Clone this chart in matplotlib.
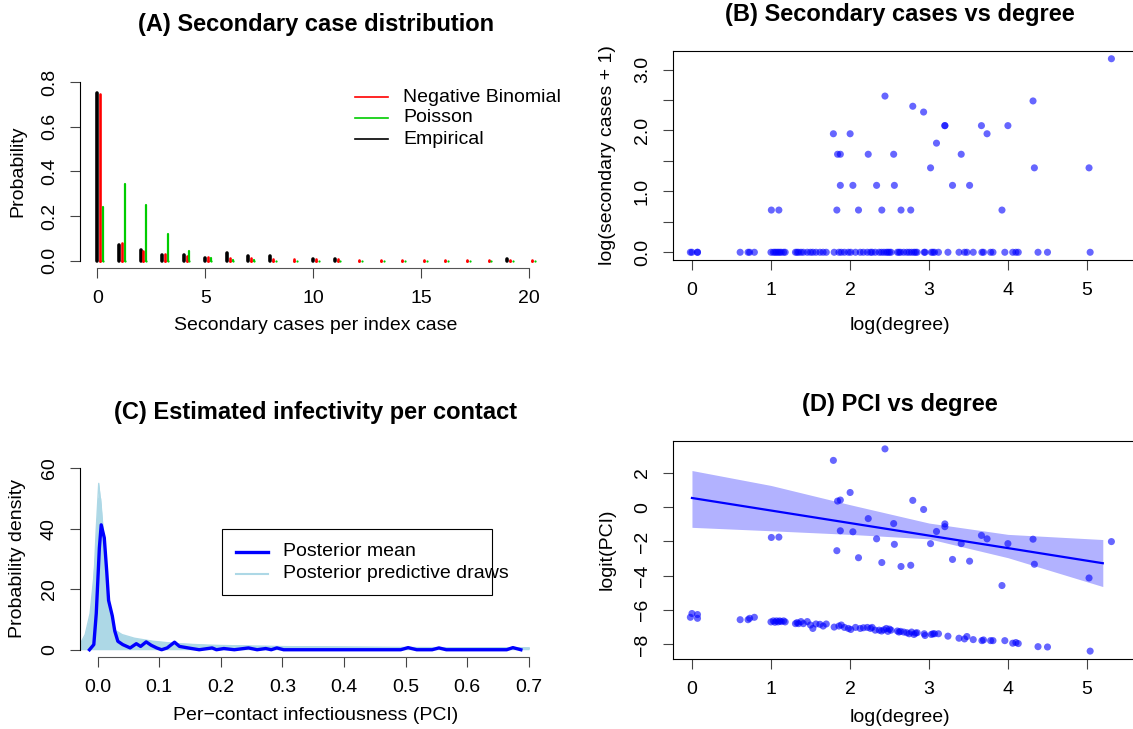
import numpy as np
import matplotlib
matplotlib.use('Agg')
import matplotlib.pyplot as plt
from matplotlib.lines import Line2D
from matplotlib.patches import Rectangle

plt.rcParams['font.family'] = ['Liberation Sans', 'DejaVu Sans']
plt.rcParams['font.size'] = 14

# ---- (A) secondary case distribution ----
k_all = np.arange(21)
emp_k = [0, 1, 2, 3, 4, 5, 6, 7, 8, 10, 11, 19]
emp_p = [0.752, 0.070, 0.048, 0.027, 0.027, 0.013, 0.033, 0.020, 0.020, 0.010, 0.010, 0.010]
nb_p = [0.749, 0.081, 0.043, 0.030, 0.023, 0.018, 0.015, 0.012, 0.010, 0.008, 0.008,
        0.007, 0.006, 0.006, 0.005, 0.005, 0.005, 0.004, 0.004, 0.004, 0.004]
pois_p = [0.240, 0.345, 0.250, 0.122, 0.046, 0.015, 0.006, 0.002, 0.001, 0, 0,
          0, 0, 0, 0, 0, 0, 0, 0, 0, 0]

# ---- (B)/(D) per index case: log(degree), secondary cases, logit(PCI) ----
deg_pos = [1.005, 1.10, 1.79, 1.834, 1.843, 1.878, 1.878, 2.002, 2.037, 2.108, 2.231, 2.337,
           2.403, 2.443, 2.553, 2.562, 2.646, 2.769, 2.795, 2.932, 3.02, 3.095, 3.201, 3.201,
           3.298, 3.408, 3.514, 3.664, 3.735, 3.924, 3.999, 4.317, 4.334, 5.026, 5.309]
sec_pos = [1, 1, 6, 1, 4, 4, 2, 6, 2, 1, 4, 2, 1, 12, 4, 2, 1, 1, 10, 9, 3, 5, 7, 7,
           2, 4, 2, 7, 6, 1, 7, 11, 3, 3, 23]
pci_pos = [-1.77, -1.75, 2.72, -2.54, 0.35, 0.41, -1.38, 0.85, -1.44, -2.95, -0.67, -1.85,
           -3.23, 3.39, -0.96, -2.17, -3.46, -3.39, 0.39, -0.14, -2.13, -1.42, -0.98, -1.14,
           -3.05, -2.13, -3.15, -1.65, -1.85, -4.57, -2.13, -1.87, -3.33, -4.13, -2.01]

deg_zero = [-0.02, 0.00, 0.07, 0.07, 0.61, 0.71, 0.73, 0.79, 1.00, 1.03, 1.05, 1.07, 1.09,
            1.11, 1.13, 1.16, 1.18, 1.31, 1.33, 1.35, 1.38, 1.41, 1.46, 1.50, 1.53, 1.57,
            1.62, 1.66, 1.70, 1.80, 1.86, 1.89, 1.93, 1.98, 2.01, 2.07, 2.13, 2.17, 2.22,
            2.26, 2.28, 2.32, 2.37, 2.40, 2.43, 2.46, 2.48, 2.50, 2.52, 2.60, 2.62, 2.64,
            2.68, 2.72, 2.75, 2.78, 2.81, 2.83, 2.85, 2.94, 2.95, 3.03, 3.05, 3.07, 3.12,
            3.24, 3.38, 3.45, 3.48, 3.56, 3.67, 3.69, 3.78, 3.81, 3.96, 4.06, 4.10, 4.13,
            4.38, 4.50, 5.04]
pci_zero = [-6.42, -6.20, -6.26, -6.48, -6.56, -6.56, -6.48, -6.42, -6.69, -6.63, -6.71, -6.63,
            -6.69, -6.63, -6.67, -6.63, -6.69, -6.79, -6.73, -6.79, -6.67, -6.79, -6.67, -6.87,
            -7.07, -6.81, -6.83, -6.93, -6.81, -6.99, -6.93, -6.87, -7.01, -7.07, -7.13, -7.01,
            -7.07, -7.03, -7.01, -7.07, -7.01, -7.17, -7.17, -7.22, -7.15, -7.07, -7.24, -7.11,
            -7.17, -7.22, -7.28, -7.24, -7.28, -7.32, -7.38, -7.28, -7.42, -7.34, -7.32, -7.38,
            -7.48, -7.42, -7.38, -7.38, -7.38, -7.52, -7.64, -7.68, -7.54, -7.72, -7.78, -7.74,
            -7.78, -7.78, -7.78, -7.93, -7.89, -7.95, -8.13, -8.15, -8.39]

# regression fit in (D)
fit_x = [0, 1, 2, 3, 4, 5.2]
fit_mid = [0.53, -0.20, -0.93, -1.66, -2.39, -3.27]
fit_hi = [2.13, 1.26, 0.14, -0.93, -1.59, -1.89]
fit_lo = [-1.18, -1.38, -1.59, -1.85, -2.95, -4.63]

# ---- (C) PCI density ----
mean_x = [-0.013, -0.006, -0.002, 0.003, 0.006, 0.011, 0.015, 0.018, 0.024, 0.028, 0.033,
          0.041, 0.053, 0.063, 0.070, 0.079, 0.087, 0.096, 0.104, 0.113, 0.125, 0.133, 0.147,
          0.165, 0.186, 0.193, 0.205, 0.222, 0.245, 0.259, 0.273, 0.282, 0.291, 0.302, 0.492,
          0.504, 0.518, 0.543, 0.554, 0.566, 0.664, 0.674, 0.687]
mean_y = [0, 1.7, 12, 33.6, 41.3, 37, 25.8, 16.3, 11.2, 6.2, 2.8,
          1.7, 0.6, 2.0, 1.1, 2.6, 1.5, 0.6, 0, 0.6, 2.5, 1.1, 0.6,
          0, 0.6, 0, 0.4, 0, 0.6, 0, 0.4, 0, 0.6, 0, 0,
          0.7, 0, 0, 0.6, 0, 0, 0.7, 0]

draw_x = [-0.028, -0.02, -0.012, -0.006, -0.002, 0.002, 0.005, 0.009, 0.014, 0.02, 0.028,
          0.04, 0.06, 0.09, 0.13, 0.18, 0.25, 0.35, 0.45, 0.55, 0.65, 0.70]
draws = [
    [1.0, 3, 9, 22, 40, 55, 48, 32, 18, 9, 5, 3.8, 3.0, 2.2, 1.6, 1.2, 1.0, 0.8, 0.7, 0.6, 0.6, 0.5],
    [0.5, 2, 6, 16, 30, 44, 46, 36, 22, 11, 5.5, 4.2, 3.2, 2.4, 1.8, 1.3, 1.0, 0.8, 0.6, 0.6, 0.5, 0.4],
    [2.0, 5, 12, 24, 33, 38, 36, 28, 18, 10, 6, 4.6, 3.4, 2.6, 1.9, 1.4, 1.1, 0.9, 0.7, 0.6, 0.6, 0.5],
    [0.2, 1, 4, 12, 26, 40, 50, 40, 24, 12, 5, 3.4, 2.6, 1.8, 1.3, 1.0, 0.8, 0.6, 0.5, 0.5, 0.4, 0.4],
    [1.5, 4, 10, 20, 30, 35, 32, 25, 17, 10, 6.5, 5.0, 3.8, 2.8, 2.0, 1.5, 1.2, 0.9, 0.8, 0.7, 0.6, 0.5],
    [0.8, 3, 8, 18, 34, 50, 44, 30, 16, 8, 4.5, 3.0, 2.3, 1.7, 1.2, 0.9, 0.7, 0.6, 0.5, 0.4, 0.4, 0.3],
]

W, H = 1133, 729
fig = plt.figure(figsize=(W / 100, H / 100), dpi=100)


def axes_px(l, t, r, b):
    return fig.add_axes([l / W, 1 - b / H, (r - l) / W, (b - t) / H])


def text_px(x, y, s, **kw):
    fig.text(x / W, 1 - y / H, s, ha='center', va='center', **kw)


def r_style(ax, box=False):
    ax.tick_params(direction='out', length=7, width=0.8, color='#444444', pad=9)
    for side in ['left', 'bottom', 'top', 'right']:
        ax.spines[side].set_linewidth(0.8)
    if not box:
        ax.spines['top'].set_visible(False)
        ax.spines['right'].set_visible(False)
        ax.spines['bottom'].set_color('#555555')
    else:
        ax.spines['right'].set_visible(False)


blue_pt = (0, 0, 1, 0.6)
green = '#00cc00'

# (A)
ax = axes_px(80, 75, 552, 268)
ax.vlines(emp_k, 0, emp_p, color='black', lw=2.6, capstyle='round')
ax.vlines(k_all + 0.13, 0, nb_p, color='red', lw=1.9, capstyle='round')
ax.vlines(k_all + 0.26, 0, pois_p, color=green, lw=1.6, capstyle='round')
# round line ends: near-zero bars still show as dots
ax.plot(k_all + 0.13, np.zeros(21), 'o', color='red', ms=1.9, mew=0)
ax.plot(k_all + 0.26, np.zeros(21), 'o', color=green, ms=1.6, mew=0)
ax.set_xlim(-0.81, 21.07)
ax.set_ylim(-0.032, 0.832)
ax.set_xticks([0, 5, 10, 15, 20])
ax.set_yticks([0, 0.2, 0.4, 0.6, 0.8], ['0.0', '0.2', '0.4', '0.6', '0.8'], rotation=90, va='center')
r_style(ax)
ax.spines['left'].set_bounds(0, 0.8)
ax.spines['bottom'].set_bounds(0, 20)
text_px(316, 25, '(A) Secondary case distribution', fontsize=17, fontweight='bold')
text_px(316, 326, 'Secondary cases per index case')
text_px(18, 171, 'Probability', rotation=90)
for yy, col, lab in [(97, 'red', 'Negative Binomial'), (118, green, 'Poisson'),
                     (139, 'black', 'Empirical')]:
    fig.add_artist(Line2D([355 / W, 388 / W], [1 - yy / H] * 2, color=col, lw=1.2))
    fig.text(403 / W, 1 - yy / H, lab, ha='left', va='center')

# (B)
ax = axes_px(673, 51, 1134, 260)
ax.scatter(deg_zero, np.zeros(len(deg_zero)), s=26, color=blue_pt, edgecolors='none')
ax.scatter(deg_pos, np.log(np.array(sec_pos) + 1), s=26, color=blue_pt, edgecolors='none')
ax.set_xlim(-0.24, 5.595)
ax.set_ylim(-0.127, 3.305)
ax.set_xticks([0, 1, 2, 3, 4, 5])
ax.set_yticks([0, 0.5, 1, 1.5, 2, 2.5, 3], ['0.0', '', '1.0', '', '2.0', '', '3.0'],
              rotation=90, va='center')
r_style(ax, box=True)
text_px(900, 14, '(B) Secondary cases vs degree', fontsize=17, fontweight='bold')
text_px(900, 326, 'log(degree)')
text_px(607, 155, 'log(secondary cases + 1)', rotation=90)

# (C)
ax = axes_px(80, 461, 552, 657)
ax.fill_between(draw_x, 0, np.max(draws, axis=0), color='lightblue', lw=0)
for d in draws:
    ax.plot(draw_x, d, color='lightblue', lw=1)
ax.plot(mean_x, mean_y, color='blue', lw=2.4)
ax.set_xlim(-0.0284, 0.7375)
ax.set_ylim(-2.4, 62.4)
ax.set_xticks(np.arange(0, 0.71, 0.1), ['0.0', '0.1', '0.2', '0.3', '0.4', '0.5', '0.6', '0.7'])
ax.set_yticks([0, 20, 40, 60], ['0', '20', '40', '60'], rotation=90, va='center')
r_style(ax)
ax.spines['left'].set_bounds(0, 60)
ax.spines['bottom'].set_bounds(0, 0.7)
text_px(316, 413, '(C) Estimated infectivity per contact', fontsize=17, fontweight='bold')
text_px(316, 716, 'Per\u2212contact infectiousness (PCI)')
text_px(18, 559, 'Probability density', rotation=90)
fig.add_artist(Rectangle((222 / W, 1 - 595 / H), 270 / W, 66 / H, fill=False,
                         edgecolor='black', lw=0.8, transform=fig.transFigure))
for yy, col, lw, lab in [(552, 'blue', 2.4, 'Posterior mean'),
                         (574, 'lightblue', 1.5, 'Posterior predictive draws')]:
    fig.add_artist(Line2D([236 / W, 268 / W], [1 - yy / H] * 2, color=col, lw=lw))
    fig.text(283 / W, 1 - yy / H, lab, ha='left', va='center')

# (D)
ax = axes_px(673, 441, 1134, 659)
ax.fill_between(fit_x, fit_lo, fit_hi, color=(0, 0, 1, 0.3), lw=0)
ax.scatter(deg_zero, pci_zero, s=26, color=blue_pt, edgecolors='none')
ax.scatter(deg_pos, pci_pos, s=26, color=blue_pt, edgecolors='none')
ax.plot(fit_x, fit_mid, color='blue', lw=1.6)
ax.set_xlim(-0.24, 5.595)
ax.set_ylim(-8.85, 3.85)
ax.set_xticks([0, 1, 2, 3, 4, 5])
ax.set_yticks([-8, -6, -4, -2, 0, 2], ['\u22128', '\u22126', '\u22124', '\u22122', '0', '2'],
              rotation=90, va='center')
r_style(ax, box=True)
text_px(900, 405, '(D) PCI vs degree', fontsize=17, fontweight='bold')
text_px(900, 717, 'log(degree)')
text_px(607, 549, 'logit(PCI)', rotation=90)

fig.savefig('out.png', dpi=100)
